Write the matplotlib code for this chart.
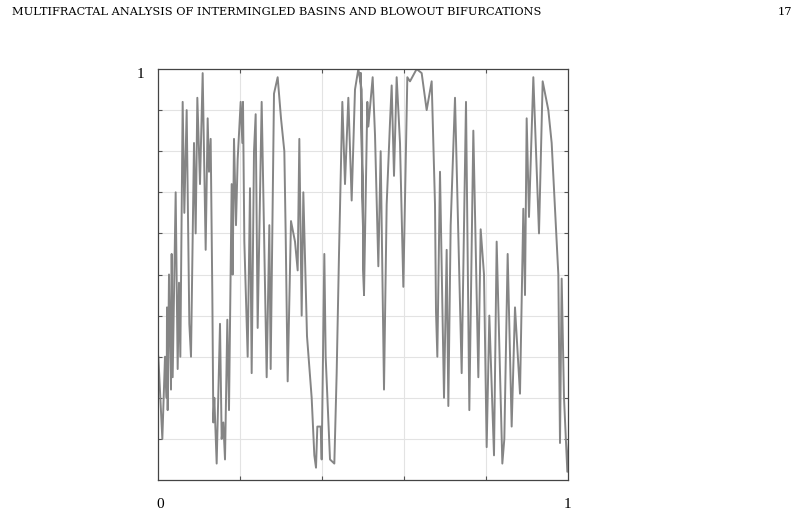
import matplotlib
matplotlib.use("Agg")
import matplotlib.pyplot as plt
import numpy as np

# readings from the first half (zoom coords -> x = (zx-9)/1230)
zx1 = [10, 22, 30, 35, 36, 38, 42, 48, 50, 53, 62, 68, 72, 76, 83, 88, 95, 103, 108, 117,
       122, 127, 135, 143, 152, 158, 162, 167, 172, 175, 178, 185, 195, 200, 205, 210, 217, 222, 230, 233,
       237, 243, 248, 257, 262, 264, 268, 278, 285, 290, 297, 302, 308, 320, 335, 343, 347, 357, 368, 378,
       388, 392, 398, 408, 420, 428, 433, 440, 445, 456, 470, 478, 483, 487, 497, 500, 508, 512, 525, 538,
       545, 552, 562, 570, 580, 590, 600, 610, 620, 627]
v1 = [0.30, 0.10, 0.30, 0.20, 0.42, 0.17, 0.50, 0.22, 0.55, 0.25, 0.70, 0.27, 0.48, 0.30, 0.92, 0.65, 0.90, 0.38, 0.30, 0.82,
      0.60, 0.93, 0.72, 0.99, 0.56, 0.88, 0.75, 0.83, 0.45, 0.14, 0.20, 0.04, 0.38, 0.10, 0.14, 0.05, 0.39, 0.17, 0.72, 0.50,
      0.83, 0.62, 0.78, 0.92, 0.82, 0.92, 0.58, 0.30, 0.71, 0.26, 0.80, 0.89, 0.37, 0.92, 0.25, 0.62, 0.27, 0.94, 0.98, 0.88,
      0.80, 0.60, 0.24, 0.63, 0.58, 0.51, 0.83, 0.40, 0.70, 0.35, 0.20, 0.06, 0.03, 0.13, 0.13, 0.05, 0.55, 0.30, 0.05, 0.04,
      0.26, 0.55, 0.92, 0.72, 0.93, 0.68, 0.95, 1.00, 0.95, 0.45]

# readings from the second half (x = (606+zx)/1230)
zx2 = [2, 12, 22, 25, 38, 45, 55, 62, 72, 80, 90, 95, 102, 110, 120, 130, 142, 150, 170, 185,
       200, 215, 225, 228, 232, 240, 252, 260, 265, 272, 285, 305, 318, 328, 340, 355, 362, 372, 380, 388,
       402, 410, 427, 433, 443, 455, 465, 480, 490, 495, 500, 507, 520, 537, 548, 565, 575, 595, 600, 605,
       612, 622, 628, 633]
v2 = [0.99, 0.45, 0.92, 0.86, 0.98, 0.84, 0.52, 0.80, 0.22, 0.67, 0.87, 0.96, 0.74, 0.98, 0.82, 0.47, 0.98, 0.97, 1.00, 0.99,
      0.90, 0.97, 0.67, 0.41, 0.30, 0.75, 0.20, 0.56, 0.18, 0.62, 0.93, 0.26, 0.92, 0.17, 0.85, 0.25, 0.61, 0.50, 0.08, 0.40,
      0.06, 0.58, 0.04, 0.10, 0.55, 0.13, 0.42, 0.21, 0.66, 0.45, 0.88, 0.64, 0.98, 0.60, 0.97, 0.90, 0.82, 0.50, 0.09, 0.49,
      0.20, 0.02, 0.12, 0.22]

x = np.concatenate([(np.array(zx1) - 9) / 1230, (606 + np.array(zx2)) / 1230])
y = np.array(v1 + v2)

fig = plt.figure(figsize=(8, 5.15), dpi=100)
ax = fig.add_axes([158/800, 35/515, 410/800, 411/515])
ax.plot(x, y, color="#858585", lw=1.4)
ax.set_xlim(0, 1)
ax.set_ylim(0, 1)
ax.set_xticks(np.arange(0.2, 1.0, 0.2))
ax.set_yticks(np.arange(0.1, 1.0, 0.1))
ax.grid(True, color="#e3e3e3", lw=0.8)
ax.tick_params(direction="in", length=3, top=True, right=True,
               labelbottom=False, labelleft=False, color="#555555")
for s in ax.spines.values():
    s.set_color("#444444")
    s.set_linewidth(0.9)

serif = "Liberation Serif"
fig.text(160/800, 1 - 505/515, "0", ha="center", va="center", fontsize=11, family=serif)
fig.text(567/800, 1 - 505/515, "1", ha="center", va="center", fontsize=11, family=serif)
fig.text(140/800, 1 - 75/515, "1", ha="center", va="center", fontsize=11, family=serif)
fig.text(12/800, 1 - 12/515, "MULTIFRACTAL ANALYSIS OF INTERMINGLED BASINS AND BLOWOUT BIFURCATIONS",
         ha="left", va="center", fontsize=8.2, family="DejaVu Serif")
fig.text(785/800, 1 - 12/515, "17", ha="center", va="center", fontsize=8.2, family="DejaVu Serif")

fig.savefig("out.png", dpi=100)
